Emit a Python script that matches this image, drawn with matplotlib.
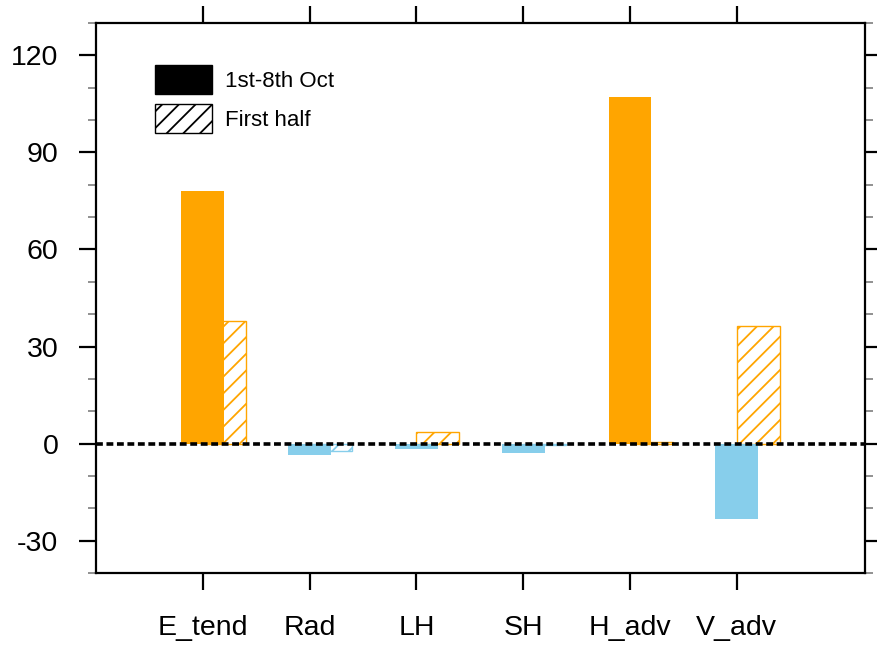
import matplotlib
matplotlib.use('Agg')
import matplotlib.pyplot as plt
from matplotlib.patches import Patch
from matplotlib.ticker import MultipleLocator
import numpy as np

categories = ['E_tend', 'Rad', 'LH', 'SH', 'H_adv', 'V_adv']
oct_vals = [78.0, -3.4, -1.6, -2.8, 107.2, -23.2]   # 1st-8th Oct
half_vals = [38.0, -2.2, 3.5, -0.3, 0.4, 36.5]     # First half

plt.rcParams['font.family'] = ['Liberation Sans', 'DejaVu Sans']
plt.rcParams['hatch.linewidth'] = 1.3
plt.rcParams['axes.unicode_minus'] = False

fig = plt.figure(figsize=(8.77, 6.48), dpi=100)
ax = fig.add_axes([96/877, 1-573/648, 769/877, 550/648])

x = np.arange(1, len(categories) + 1)

def col(v):
    return 'orange' if v >= 0 else 'skyblue'

# hatched bars behind, solid bars in front
ax.bar(x + 0.2, half_vals, width=0.4, color='white',
       edgecolor=[col(v) for v in half_vals], hatch='//', lw=1, zorder=2)
ax.bar(x, oct_vals, width=0.4, color=[col(v) for v in oct_vals],
       edgecolor='none', zorder=3)

# zero line
ax.axhline(0, color='k', lw=2.6, linestyle=(0, (1.9, 1.0)), zorder=5)

ax.set_xlim(0, 7.2)
ax.set_ylim(-40, 130)
ax.set_xticks(x)
ax.set_xticklabels(categories)
ax.yaxis.set_major_locator(MultipleLocator(30))
ax.yaxis.set_minor_locator(MultipleLocator(10))

for s in ax.spines.values():
    s.set_linewidth(1.6)
ax.tick_params(axis='both', which='major', direction='out', length=12,
               width=1.6, labelsize=20.5, top=True, right=True)
ax.tick_params(axis='y', which='major', pad=15)
ax.tick_params(axis='x', which='major', pad=18)
ax.tick_params(axis='y', which='minor', direction='out', length=6,
               width=1.1, color='0.45', right=True)

handles = [Patch(facecolor='black', edgecolor='black'),
           Patch(facecolor='white', edgecolor='black', hatch='//')]
ax.legend(handles, ['1st-8th Oct', 'First half'], loc='upper left',
          bbox_to_anchor=((155-96)/769, 1-(65-23)/550), frameon=False,
          fontsize=16, handlelength=2.55, handleheight=1.63,
          handletextpad=0.6, labelspacing=0.45, borderpad=0,
          borderaxespad=0)

fig.savefig('out.png', dpi=100)
